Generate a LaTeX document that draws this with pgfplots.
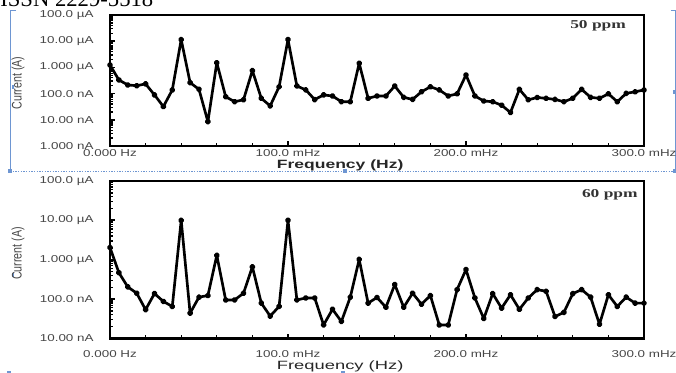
\documentclass[border=0pt]{standalone}
\usepackage{pgfplots}
\usepackage{pgfplotstable}
\pgfplotsset{compat=1.18}
\usepackage{fontspec}
\setmainfont{Liberation Sans}
\newfontfamily\seriffont{Liberation Serif}
\definecolor{ticklbl}{RGB}{70,70,70}
\definecolor{frameblue}{RGB}{110,150,210}

\pgfplotstableread{
f I
0 1230
5 331
10 214
15 200
20 234
25 89
30 32
35 138
40 11500
45 263
50 145
55 8.5
60 1510
65 76
70 49
75 58
80 759
85 66
90 34
95 182
100 11500
105 195
110 138
115 59
120 89
125 81
130 49
135 49
140 1445
145 66
150 81
155 81
160 195
165 72
170 60
175 117
180 182
185 138
190 81
195 98
200 513
205 81
210 52
215 49
220 36
225 19
230 145
235 58
240 71
245 66
250 60
255 49
260 66
265 145
270 72
275 66
280 98
285 49
290 102
295 117
300 138
}\topdata

\pgfplotstableread{
f I
0 2040
5 468
10 204
15 141
20 54
25 138
30 87
35 65
40 10000
45 44
50 112
55 123
60 1290
65 95
70 95
75 141
80 661
85 79
90 37
95 65
100 10000
105 95
110 107
115 107
120 22
125 55
130 27
135 112
140 1020
145 79
150 110
155 62
160 234
165 62
170 141
175 74
180 123
185 22
190 22
195 174
200 562
205 107
210 32
215 138
220 59
225 129
230 55
235 107
240 174
245 158
250 36
255 46
260 138
265 174
270 112
275 23
280 129
285 65
290 112
295 79
300 79
}\botdata

\pgfplotsset{
  every axis/.append style={
    scale only axis, width=400.5pt,
    xmin=0, xmax=300, clip=false,
    axis line style={line width=2pt, black},
    xtick={0,100,200,300},
    minor xtick={20,40,60,80,120,140,160,180,220,240,260,280},
    xticklabels={0.000 Hz,100.0 mHz,200.0 mHz,300.0 mHz},
    tick align=inside, xtick pos=bottom, ytick pos=left,
    major tick length=3.5pt, minor tick length=2.5pt,
    major tick style={line width=1.3pt, black},
    minor tick style={line width=1pt, black},
    tick label style={font=\fontsize{7.5}{8}\selectfont, text=ticklbl, inner sep=0pt, xscale=1.34},
    yticklabel style={anchor=east, xshift=-9pt},
    ylabel={Current (A)},
    ylabel style={font=\fontsize{8}{9}\selectfont, text=ticklbl, anchor=center, inner sep=0pt, yscale=1.3},
    xlabel style={anchor=center, inner sep=0pt},
  },
}

\begin{document}
\begin{tikzpicture}
\useasboundingbox (0,0) rectangle (507pt,279.75pt);

% clipped journal header
\node[anchor=base west, inner sep=0pt, font=\seriffont\fontsize{17}{18}\selectfont] at (0pt,274.5pt) {ISSN 2229-5518};

% frame artefacts
\draw[frameblue, line width=0.5pt] (12pt,272pt) -- (7.5pt,272pt) -- (7.5pt,151.5pt);
\draw[frameblue, line width=0.5pt, dash pattern=on 1pt off 1pt] (7.5pt,151.5pt) -- (506pt,151.5pt);
\draw[frameblue, line width=0.5pt] (503pt,272pt) -- (506.5pt,272pt) -- (506.5pt,151.5pt);
\fill[frameblue] (6pt,150pt) rectangle (9pt,153pt);
\fill[frameblue] (257pt,150pt) rectangle (260pt,153pt);
\fill[frameblue] (505pt,150pt) rectangle (507pt,153pt);
\fill[frameblue] (505pt,209pt) rectangle (507pt,212pt);
\fill[frameblue] (9pt,213pt) rectangle (10.5pt,216pt);
\fill[frameblue] (9pt,72pt) rectangle (10.5pt,75pt);
\fill[frameblue] (5pt,0pt) rectangle (8pt,1.5pt);
\fill[frameblue] (256pt,0pt) rectangle (259pt,1.5pt);

\begin{axis}[ymode=log,
  at={(82.5pt,170.25pt)}, anchor=south west,
  height=98.25pt,
  ymin=1, ymax=100000,
  ytick={1,10,100,1000,10000,100000},
  yticklabels={1.000 nA,10.00 nA,100.0 nA,1.000 µA,10.00 µA,100.0 µA},
  xticklabel style={anchor=north, yshift=-2.5pt},
  xlabel={\textbf{Frequency (Hz)}},
  xlabel style={at={(axis description cs:0.431,0)}, yshift=-14.25pt, font=\fontsize{9}{10}\selectfont, text=black!85, xscale=1.46},
  ylabel style={at={(axis description cs:-0.172,0.48)}},
]
\addplot[black, line width=2pt, line join=round, mark=*, mark size=1.3pt] table[x=f, y=I] {\topdata};
\node[font=\seriffont\bfseries\fontsize{9}{10}\selectfont, text=black!80, xscale=1.45, inner sep=0pt] at (rel axis cs:0.914,0.918) {50 ppm};
\end{axis}

\begin{axis}[ymode=log,
  at={(82.5pt,25.9pt)}, anchor=south west,
  height=118.1pt,
  ymin=10, ymax=100000,
  ytick={10,100,1000,10000,100000},
  yticklabels={10.00 nA,100.0 nA,1.000 µA,10.00 µA,100.0 µA},
  xticklabel style={anchor=north, yshift=-9pt},
  xlabel={Frequency (Hz)},
  xlabel style={at={(axis description cs:0.431,0)}, yshift=-20.6pt, font=\fontsize{9}{10}\selectfont, text=black!85, xscale=1.53},
  ylabel style={at={(axis description cs:-0.172,0.54)}},
]
\addplot[black, line width=2pt, line join=round, mark=*, mark size=1.3pt] table[x=f, y=I] {\botdata};
\node[font=\seriffont\bfseries\fontsize{9}{10}\selectfont, text=black!80, xscale=1.45, inner sep=0pt] at (rel axis cs:0.936,0.911) {60 ppm};
\end{axis}
\end{tikzpicture}
\end{document}
